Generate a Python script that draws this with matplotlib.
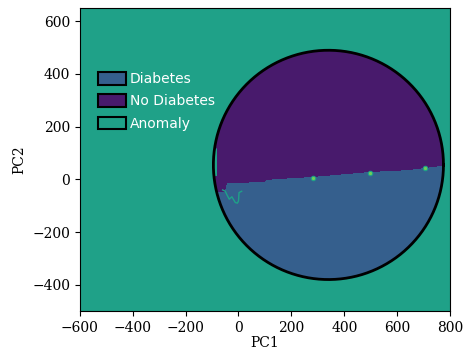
import numpy as np
import matplotlib.pyplot as plt
from matplotlib.colors import ListedColormap
from matplotlib.patches import Patch

# classes: 0 = No Diabetes, 1 = Diabetes, 2 = Anomaly
class_names = ["Diabetes", "No Diabetes", "Anomaly"]

# normal region (circle) in PC space
circle_center = (340, 55)
circle_radius = 435

# decision boundary between the two classes (x, y)
boundary_x = [-100, -80, -50, -45, -42, 20, 100, 105, 282, 497, 640, 775]
boundary_y = [-45, -50, -50, -30, -15, -15, -12, -4, 7, 26, 33, 50]

# small anomaly strip on the left edge of the circle
strip_x = [-100, -82]
strip_y = [15, 115]

# thin anomaly outline below the boundary near PC1 = 0
notch_x = [-60, -50, -44, -35, -25, -12, -4, 0, 2, 12]
notch_y = [-40, -45, -58, -75, -66, -88, -90, -82, -50, -45]

# isolated bright spots along the boundary
spot_x = [282, 497, 705]
spot_y = [7, 26, 42]

xx, yy = np.meshgrid(np.linspace(-600, 800, 700), np.linspace(-500, 650, 600))
inside = (xx - circle_center[0])**2 + (yy - circle_center[1])**2 <= circle_radius**2
below = yy < np.interp(xx, boundary_x, boundary_y)
Z = np.where(below, 1, 0)
Z = np.where(inside, Z, 2)
strip = (xx >= strip_x[0]) & (xx <= strip_x[1]) & (yy >= strip_y[0]) & (yy <= strip_y[1])
Z = np.where(strip, 2, Z)

vir = plt.get_cmap("viridis")
c_no = vir(0.07)
c_yes = vir(0.3)
c_anom = vir(0.57)
c_spot = vir(0.78)
cmap = ListedColormap([c_no, c_yes, c_anom])

fig = plt.figure(figsize=(4.64, 3.52), dpi=100)
ax = fig.add_axes([0.172, 0.116, 0.798, 0.861])
ax.contourf(xx, yy, Z, levels=[-0.5, 0.5, 1.5, 2.5], cmap=cmap)

ax.plot(notch_x, notch_y, color=c_anom, lw=1, zorder=2)
ax.scatter(spot_x, spot_y, s=10, color=c_spot, edgecolor=c_anom, linewidth=0.8, zorder=3)

t = np.linspace(0, 2 * np.pi, 400)
ax.plot(circle_center[0] + circle_radius * np.cos(t),
        circle_center[1] + circle_radius * np.sin(t), color="black", lw=2, zorder=4)

ax.set_xlim(-600, 800)
ax.set_ylim(-500, 650)
ax.set_xticks(np.arange(-600, 801, 200))
ax.set_yticks(np.arange(-400, 601, 200))
for lbl in ax.get_xticklabels() + ax.get_yticklabels():
    lbl.set_family("DejaVu Serif")
ax.tick_params(labelsize=10)
ax.set_xlabel("PC1", family="DejaVu Serif", fontsize=10, labelpad=1)
ax.set_ylabel("PC2", family="DejaVu Serif", fontsize=10)

handles = [Patch(facecolor=c, edgecolor="black", linewidth=1.5) for c in [c_yes, c_no, c_anom]]
leg = ax.legend(handles, class_names, loc="upper left", bbox_to_anchor=(0.015, 0.83),
                frameon=False, fontsize=10, handleheight=1.0, handlelength=2.0,
                handletextpad=0.3, labelspacing=0.6)
for txt in leg.get_texts():
    txt.set_color("white")

plt.savefig("out.png", dpi=100)
